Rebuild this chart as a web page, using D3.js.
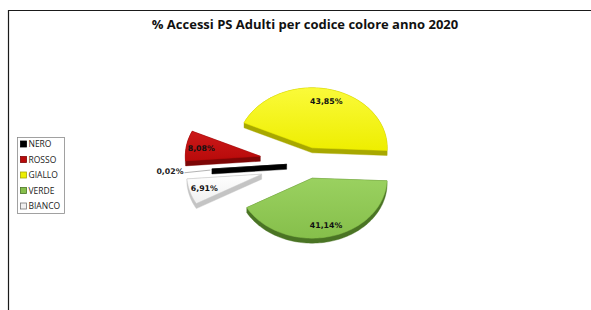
<!DOCTYPE html>
<html>
<head>
<meta charset="utf-8">
<script src="https://cdn.jsdelivr.net/npm/d3@7/dist/d3.min.js"></script>
<style>
    body { margin: 0; background: #fff; }
    svg { display: block; }
</style>
</head>
<body>
<svg id="chart" width="591" height="310"></svg>
<script>
// chart data
const title = '% Accessi PS Adulti per codice colore anno 2020';
const categories = ['NERO', 'ROSSO', 'GIALLO', 'VERDE', 'BIANCO'];
const values = [0.02, 8.08, 43.85, 41.14, 6.91];
const valueLabels = ['0,02%', '8,08%', '43,85%', '41,14%', '6,91%'];

// colours per slice: [top light, top dark, side]
const palette = {
    NERO: ['#111111', '#000000', '#000000'],
    ROSSO: ['#cc1a1a', '#b80a0a', '#7d0606'],
    GIALLO: ['#fafa3a', '#eeee00', '#a8a800'],
    VERDE: ['#9ad160', '#86bf4b', '#4a7424'],
    BIANCO: ['#ffffff', '#f0f0f0', '#c4c4c4']
};
// how far each slice is pulled out, as a fraction of the radius
const explode = { NERO: 0.28, ROSSO: 0.64, GIALLO: 0.26, VERDE: 0.26, BIANCO: 0.64 };

const svg = d3.select('#chart');

// frame around the chart area
svg.append('path')
    .attr('d', 'M8.5,310 L8.5,10.5 L591,10.5')
    .attr('fill', 'none')
    .attr('stroke', '#1a1a1a')
    .attr('stroke-width', 1.2);

svg.append('text')
    .attr('x', 305)
    .attr('y', 29)
    .attr('text-anchor', 'middle')
    .attr('font-family', '"Open Sans", sans-serif')
    .attr('font-weight', 700)
    .attr('font-size', 13)
    .attr('fill', '#111')
    .text(title);

// tilted pie: unit circle coordinates mapped onto an ellipse
const cx = 307.6, cy = 163, rx = 75, ry = 60, depth = 5;
const xScale = d3.scaleLinear().domain([-1, 1]).range([cx - rx, cx + rx]);
const yScale = d3.scaleLinear().domain([-1, 1]).range([cy + ry, cy - ry]);

const start = 265.5 * Math.PI / 180;
const pie = d3.pie().sort(null).value((d) => d.value)
    .startAngle(start).endAngle(start + 2 * Math.PI);

const slices = pie(categories.map((c, i) => ({ name: c, value: values[i], label: valueLabels[i] })));

// point at angle a and radius r, shifted out along the slice middle
function point (d, a, r) {
    const mid = (d.startAngle + d.endAngle) / 2,
        e = explode[d.data.name];
    return [
        xScale(e * Math.sin(mid) + r * Math.sin(a)),
        yScale(e * Math.cos(mid) + r * Math.cos(a))
    ];
}

function slicePoints (d) {
    const steps = Math.max(2, Math.ceil((d.endAngle - d.startAngle) / 0.03));
    const pts = [point(d, 0, 0)];
    d3.range(steps + 1).forEach((k) => {
        pts.push(point(d, d.startAngle + (d.endAngle - d.startAngle) * k / steps, 1));
    });
    return pts;
}

const line = d3.line().curve(d3.curveLinearClosed);

// gradients for the top faces
const defs = svg.append('defs');
slices.forEach((d) => {
    const g = defs.append('linearGradient')
        .attr('id', 'grad-' + d.data.name)
        .attr('x1', 0).attr('y1', 0).attr('x2', 0).attr('y2', 1);
    g.append('stop').attr('offset', '0%').attr('stop-color', palette[d.data.name][0]);
    g.append('stop').attr('offset', '100%').attr('stop-color', palette[d.data.name][1]);
});

const pieG = svg.append('g');

// side walls: hull of the top face and the same face pushed down
slices.forEach((d) => {
    const pts = slicePoints(d);
    const hull = d3.polygonHull(pts.concat(pts.map((p) => [p[0], p[1] + depth])));
    pieG.append('path')
        .attr('d', line(hull))
        .attr('fill', palette[d.data.name][2])
        .attr('stroke', palette[d.data.name][2])
        .attr('stroke-width', 0.4);
});

// top faces
slices.forEach((d) => {
    pieG.append('path')
        .attr('d', line(slicePoints(d)))
        .attr('fill', 'url(#grad-' + d.data.name + ')')
        .attr('stroke', d.data.name === 'BIANCO' ? '#c8c8c8' : palette[d.data.name][1])
        .attr('stroke-width', 0.5);
});

// data labels
slices.forEach((d) => {
    const mid = (d.startAngle + d.endAngle) / 2;
    if (d.data.value < 1) {
        // tiny slice: label outside with a leader line
        const p0 = point(d, mid, 1.02), p1 = point(d, mid, 1.38);
        pieG.append('line')
            .attr('x1', p0[0]).attr('y1', p0[1] + 1)
            .attr('x2', p1[0] + 1).attr('y2', p1[1] + 2)
            .attr('stroke', '#a0a0a0')
            .attr('stroke-width', 0.8);
        pieG.append('text')
            .attr('x', p1[0])
            .attr('y', p1[1] + 3)
            .attr('text-anchor', 'end')
            .attr('font-family', '"DejaVu Sans", sans-serif')
            .attr('font-weight', 700)
            .attr('font-size', 7.8)
            .attr('fill', '#222')
            .text(d.data.label);
    } else {
        const p = point(d, mid, 0.8);
        pieG.append('text')
            .attr('x', p[0])
            .attr('y', p[1] + 3)
            .attr('text-anchor', 'middle')
            .attr('font-family', '"DejaVu Sans", sans-serif')
            .attr('font-weight', 700)
            .attr('font-size', 7.8)
            .attr('fill', '#111')
            .text(d.data.label);
    }
});

// legend
const legend = svg.append('g').attr('transform', 'translate(17,137)');
legend.append('rect')
    .attr('x', 0.5).attr('y', 0.5)
    .attr('width', 47).attr('height', 76)
    .attr('fill', '#fff')
    .attr('stroke', '#8a8a8a')
    .attr('stroke-width', 0.8);

const item = legend.selectAll('.item')
    .data(categories).enter()
    .append('g')
    .attr('class', 'item')
    .attr('transform', (d, i) => 'translate(3,' + (7 + i * 15.5) + ')');

item.append('rect')
    .attr('x', 0.5).attr('y', -3)
    .attr('width', 6).attr('height', 6)
    .attr('fill', (d) => palette[d][1])
    .attr('stroke', (d) => d === 'BIANCO' ? '#777' : palette[d][2])
    .attr('stroke-width', 0.8);

item.append('text')
    .attr('x', 8.5)
    .attr('y', 3)
    .attr('font-family', '"Open Sans", sans-serif')
    .attr('font-size', 8.5)
    .attr('fill', '#222')
    .text((d) => d);
</script>
</body>
</html>
